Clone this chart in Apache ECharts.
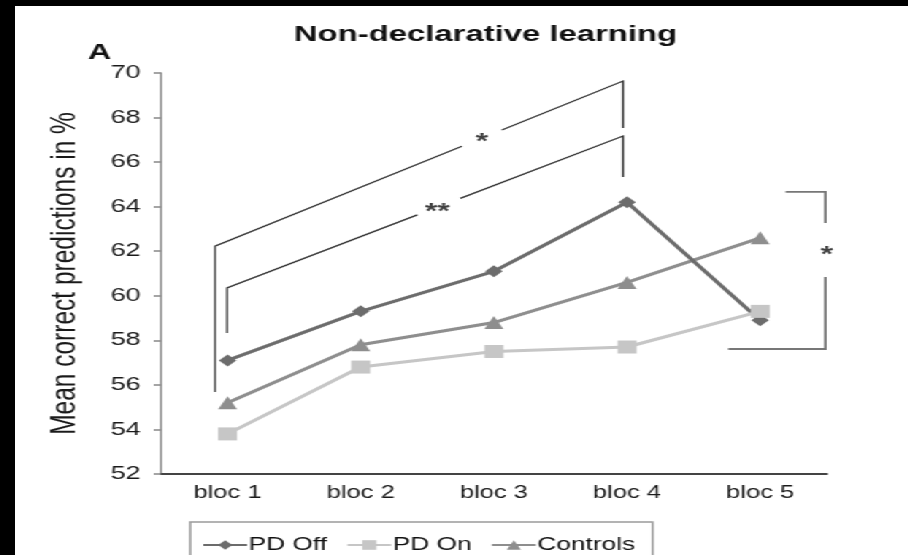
<!DOCTYPE html>
<html>
<head>
<meta charset="utf-8">
<script src="https://cdn.jsdelivr.net/npm/echarts@6/dist/echarts.min.js"></script>
<style>
  html, body { margin: 0; padding: 0; background: #000; width: 908px; height: 555px; overflow: hidden; }
  #chart { position: absolute; left: 15px; top: 6px; width: 612px; height: 549px; background: #fff;
           transform-origin: 0 0; transform: scaleX(1.46); }
</style>
</head>
<body>
<div id="chart"></div>
<script>
// ---- data ----
const categories = ['bloc 1', 'bloc 2', 'bloc 3', 'bloc 4', 'bloc 5'];
const pdOff    = [57.1, 59.3, 61.1, 64.2, 58.9];
const pdOn     = [53.8, 56.8, 57.5, 57.7, 59.3];
const controls = [55.2, 57.8, 58.8, 60.6, 62.6];
const yMin = 52, yMax = 70, yStep = 2;

// significance brackets, in data coordinates (x: category position 1..5)
const bracketOuterA = [[0.906, 55.68], [0.906, 62.23], [2.76, 66.71]];
const bracketOuterB = [[3.06, 67.44], [3.97, 69.64], [3.97, 67.53]];
const bracketInnerA = [[0.996, 58.33], [0.996, 60.35], [2.425, 63.63]];
const bracketInnerB = [[2.748, 64.37], [3.97, 67.17], [3.97, 65.33]];
const bracketRightA = [[5.19, 64.66], [5.49, 64.66], [5.49, 63.27]];
const bracketRightB = [[5.49, 60.84], [5.49, 57.61], [4.76, 57.61]];
const starLabels = [
  { name: '*',  value: [2.91, 66.9] },
  { name: '**', value: [2.575, 63.75] },
  { name: '*',  value: [5.5, 61.85] }
];

const FONT = "'Liberation Sans', Arial, sans-serif";
const chart = echarts.init(document.getElementById('chart'), null, { renderer: 'canvas', width: 612, height: 549 });

const option = {
  backgroundColor: '#fff',
  animation: false,
  title: {
    text: 'Non-declarative learning',
    left: 186, top: 12,
    textStyle: { fontFamily: FONT, fontSize: 22.5, fontWeight: 'bold', color: '#111' }
  },
  graphic: [{
    type: 'text', left: 50, top: 36,
    style: { text: 'A', font: "bold 22px 'Liberation Sans', Arial", fill: '#111' }
  }],
  legend: {
    data: ['PD Off', 'PD On', 'Controls'],
    left: 120, top: 516,
    orient: 'horizontal',
    padding: [14, 12, 30, 8],
    itemGap: 13,
    itemWidth: 30, itemHeight: 12,
    borderColor: '#9a9a9a', borderWidth: 1.5,
    textStyle: { fontFamily: FONT, fontSize: 18, color: '#111', padding: [0, 0, 0, -4] }
  },
  grid: { left: 100, right: 56, top: 67, bottom: 81, containLabel: false },
  xAxis: [{
    type: 'category', data: categories, boundaryGap: true,
    axisLine: { lineStyle: { color: '#444', width: 2 } },
    axisTick: { show: false },
    axisLabel: { fontFamily: FONT, fontSize: 17.5, color: '#1a1a1a', margin: 10 }
  }, {
    type: 'value', min: 0.5, max: 5.5, show: false
  }],
  yAxis: [{
    type: 'value', min: yMin, max: yMax, interval: yStep,
    name: 'Mean correct predictions in %', nameLocation: 'middle', nameGap: 53,
    nameTextStyle: { fontFamily: FONT, fontSize: 24.5, color: '#1a1a1a' },
    axisLine: { show: true, lineStyle: { color: '#888', width: 1.5 } },
    axisTick: { show: true, length: 5, lineStyle: { color: '#888', width: 1.5 } },
    splitLine: { show: false },
    axisLabel: { fontFamily: FONT, fontSize: 18.5, color: '#1a1a1a', margin: 14 }
  }],
  series: [
    {
      name: 'PD Off', type: 'line', data: pdOff,
      symbol: 'diamond', symbolSize: 12,
      lineStyle: { color: '#6c6c6c', width: 3 },
      itemStyle: { color: '#6c6c6c' }, z: 5
    },
    {
      name: 'PD On', type: 'line', data: pdOn,
      symbol: 'rect', symbolSize: 13,
      lineStyle: { color: '#c6c6c6', width: 3 },
      itemStyle: { color: '#c6c6c6' }, z: 6
    },
    {
      name: 'Controls', type: 'line', data: controls,
      symbol: 'triangle', symbolSize: 13,
      lineStyle: { color: '#8e8e8e', width: 3 },
      itemStyle: { color: '#8e8e8e' }, z: 4
    },
    {
      name: 'brackets', type: 'lines', coordinateSystem: 'cartesian2d',
      xAxisIndex: 1, yAxisIndex: 0, polyline: true, silent: true,
      lineStyle: { color: '#333', width: 1.3, opacity: 1 },
      data: [
        { coords: bracketOuterA }, { coords: bracketOuterB },
        { coords: bracketInnerA }, { coords: bracketInnerB }
      ], z: 3
    },
    {
      name: 'bracketRight', type: 'lines', coordinateSystem: 'cartesian2d',
      xAxisIndex: 1, yAxisIndex: 0, polyline: true, silent: true,
      lineStyle: { color: '#777', width: 1.8, opacity: 1 },
      data: [ { coords: bracketRightA }, { coords: bracketRightB } ], z: 3
    },
    {
      name: 'stars', type: 'scatter', xAxisIndex: 1, yAxisIndex: 0,
      symbolSize: 0, clip: false, silent: true,
      data: starLabels,
      label: {
        show: true, position: 'inside', formatter: p => p.name,
        fontFamily: FONT, fontSize: 22, fontWeight: 'bold', color: '#111'
      }
    }
  ]
};
chart.setOption(option);
</script>
</body>
</html>
